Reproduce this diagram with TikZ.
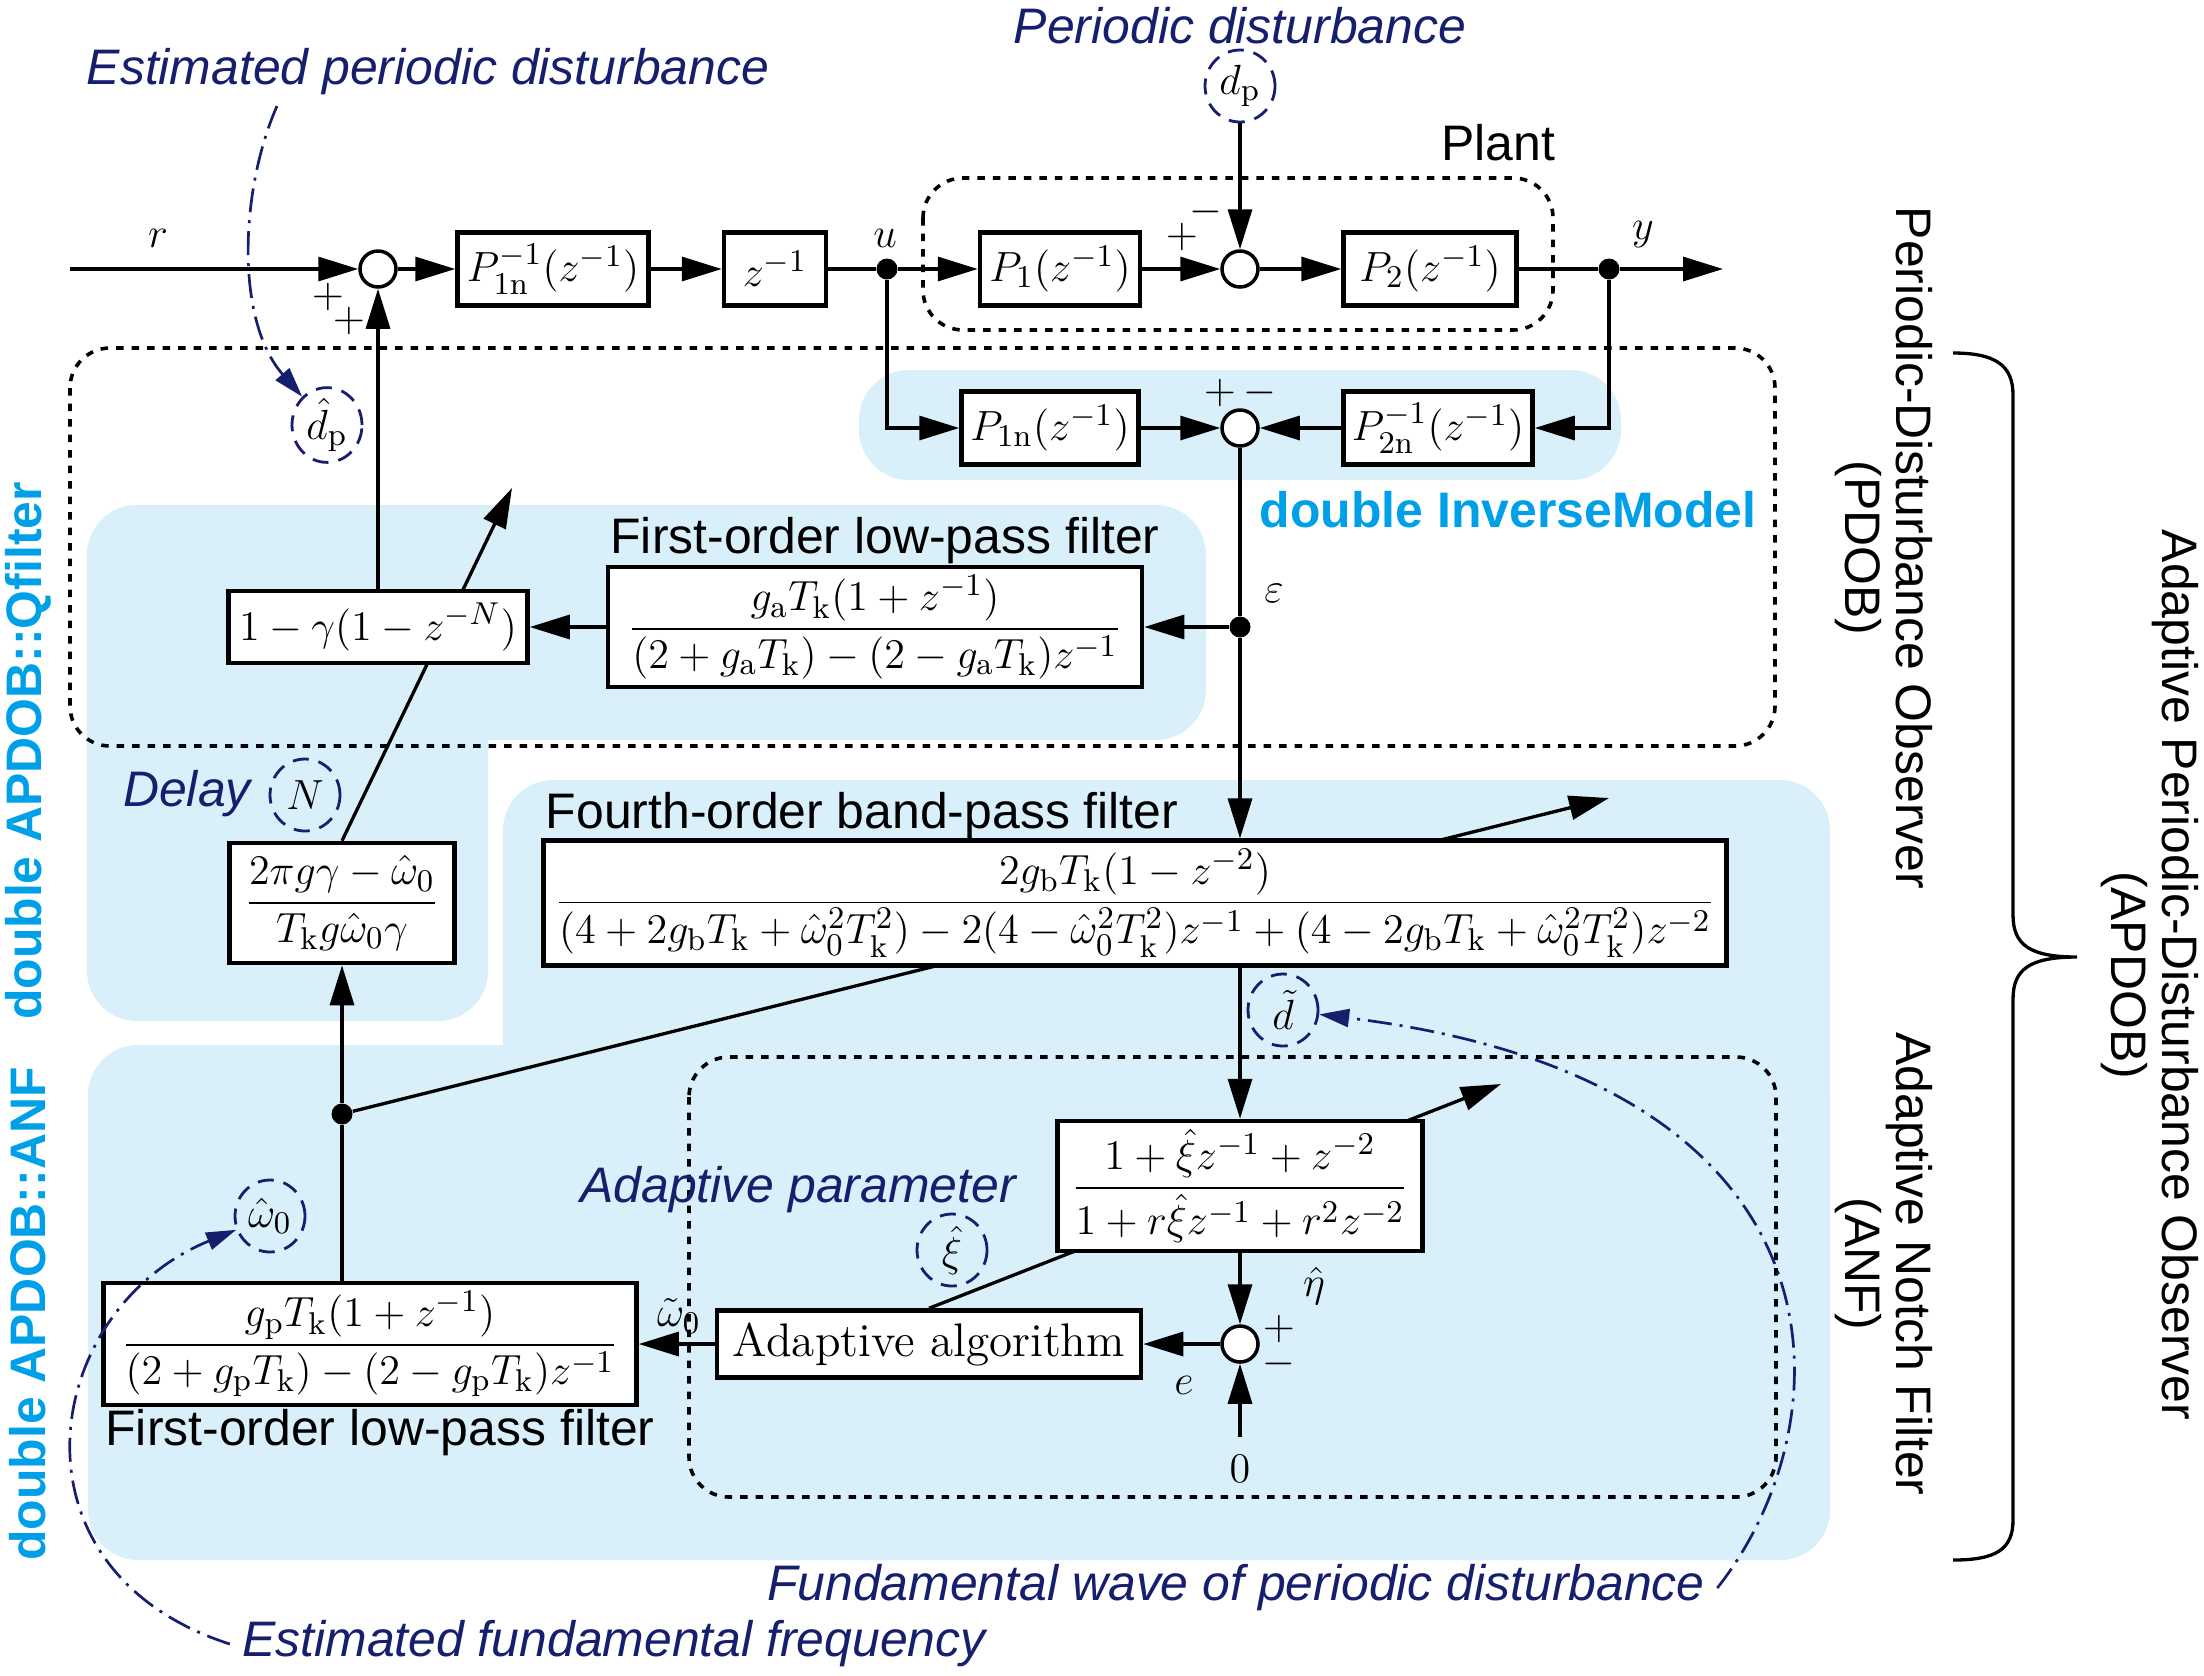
\documentclass[tikz,border=0pt]{standalone}
\usepackage{amsmath}
\usepackage{fontspec}
\setsansfont{Liberation Sans}
\usepackage{tikz}
\usetikzlibrary{shapes.geometric, arrows.meta, backgrounds}
\definecolor{navyc}{RGB}{22,30,110}
\definecolor{skyc}{RGB}{0,160,233}
\definecolor{paleblue}{RGB}{217,240,251}
\newcommand{\mathsz}{\fontsize{12.8}{15}\selectfont}
\newcommand{\lblfont}{\fontsize{14.2}{14.6}\selectfont\sffamily}
\newcommand{\notefont}{\fontsize{14.2}{14.6}\selectfont\sffamily\itshape}
\newcommand{\tagfont}{\fontsize{14.2}{14.6}\selectfont\sffamily\bfseries}
\tikzstyle{block} = [rectangle, draw=black, line width=0.45mm, fill=white, minimum height=7.3mm, inner sep=0.8mm, font=\mathsz]
\tikzstyle{sumnode} = [circle, draw=black, line width=0.35mm, fill=white, minimum size=3.6mm, inner sep=0pt]
\tikzstyle{dot} = [circle, fill=black, minimum size=2.1mm, inner sep=0pt]
\tikzstyle{wire} = [line width=0.33mm]
\tikzstyle{arrow} = [wire, -{Triangle[length=4mm, width=2.4mm]}]
\tikzstyle{frame} = [line width=0.36mm, dash pattern=on 0.75mm off 0.8mm, rounded corners=4mm]
\tikzstyle{region} = [fill=paleblue, rounded corners=5mm]
\tikzstyle{sig} = [ellipse, draw=navyc, dash pattern=on 1.6mm off 1mm, line width=0.28mm, minimum width=7mm, minimum height=7.2mm, inner sep=0pt, font=\mathsz]
\tikzstyle{sym} = [font=\mathsz, inner sep=0pt]
\tikzstyle{note} = [text=navyc, font=\notefont]
\tikzstyle{guide} = [navyc, line width=0.27mm, dash pattern=on 2.4mm off 0.8mm on 0.3mm off 0.8mm, -{Triangle[length=3mm, width=1.8mm]}]
\tikzstyle{blocktitle} = [font=\lblfont]
\tikzstyle{tag} = [text=skyc, font=\tagfont]
\tikzstyle{side} = [font=\lblfont, rotate=-90, align=center]

\begin{document}
\begin{tikzpicture}[x=0.1mm, y=-0.1mm]
\useasboundingbox (0,0) rectangle (2204,1675);
\begin{scope}[on background layer]
\fill [region] (859,370) rectangle (1621,480);
\fill [region] (87,505) rectangle (1206,740);
\fill [region] (87,505) rectangle (488,1021);
\fill [region] (503,780) rectangle (1830,1560);
\fill [region] (88,1045) rectangle (1830,1560);
\end{scope}
\draw [frame] (923,178) rectangle (1553,330);
\draw [frame] (70,348) rectangle (1775,746);
\draw [frame] (689,1057) rectangle (1776,1497);

% plant loop
\coordinate (rin) at (70,269);
\node (sa) [sumnode] at (378,269) {};
\node (pinv) [block, minimum width=19.1mm] at (553,269) {$P_{1\mathrm{n}}^{-1}(z^{-1})$};
\node (zinv) [block, minimum width=10.2mm] at (775,269) {$z^{-1}$};
\node (ju) [dot] at (887,269) {};
\node (pone) [block, minimum width=16mm] at (1060,269) {$P_1(z^{-1})$};
\node (sb) [sumnode] at (1240,269) {};
\node (ptwo) [block, minimum width=17.3mm] at (1430,269) {$P_2(z^{-1})$};
\node (jy) [dot] at (1609,269) {};
\coordinate (yout) at (1723,269);
\node (dp) [sig] at (1240,86) {$d_\mathrm{p}$};

% inverse model
\node (ponen) [block, minimum width=17.7mm] at (1050,428) {$P_{1\mathrm{n}}(z^{-1})$};
\node (sc) [sumnode] at (1240,428) {};
\node (ptwoinv) [block, minimum width=18.9mm] at (1438,428) {$P_{2\mathrm{n}}^{-1}(z^{-1})$};

% Q filter
\node (jeps) [dot] at (1240,627) {};
\node (lpfa) [block, minimum width=53.4mm, minimum height=11.9mm] at (875,627) {$\dfrac{g_\mathrm{a}T_\mathrm{k}(1+z^{-1})}{(2+g_\mathrm{a}T_\mathrm{k})-(2-g_\mathrm{a}T_\mathrm{k})z^{-1}}$};
\node (qgain) [block, minimum width=29.9mm, minimum height=7.2mm] at (378,627) {$1-\gamma(1-z^{-N})$};
\node (wgain) [block, minimum width=22.5mm, minimum height=12mm] at (342,903) {$\dfrac{2\pi g\gamma-\hat{\omega}_0}{T_\mathrm{k}g\hat{\omega}_0\gamma}$};
\node (jw) [dot] at (342,1114) {};

% ANF
\node (bpf) [block, minimum width=118.3mm, minimum height=12mm] at (1135,903) {$\dfrac{2g_\mathrm{b}T_\mathrm{k}(1-z^{-2})}{(4+2g_\mathrm{b}T_\mathrm{k}+\hat{\omega}_0^2T_\mathrm{k}^2)-2(4-\hat{\omega}_0^2T_\mathrm{k}^2)z^{-1}+(4-2g_\mathrm{b}T_\mathrm{k}+\hat{\omega}_0^2T_\mathrm{k}^2)z^{-2}}$};
\node (notch) [block, minimum width=36.5mm, minimum height=13mm] at (1240,1186) {$\dfrac{1+\hat{\xi}z^{-1}+z^{-2}}{1+r\hat{\xi}z^{-1}+r^2z^{-2}}$};
\node (sd) [sumnode] at (1240,1344) {};
\coordinate (zero) at (1240,1437);
\node (adapt) [block, minimum width=42.4mm, minimum height=6.7mm, font=\fontsize{13.4}{15}\selectfont] at (929,1344) {Adaptive algorithm};
\node (lpfp) [block, minimum width=53.3mm, minimum height=12mm] at (370,1344) {$\dfrac{g_\mathrm{p}T_\mathrm{k}(1+z^{-1})}{(2+g_\mathrm{p}T_\mathrm{k})-(2-g_\mathrm{p}T_\mathrm{k})z^{-1}}$};

% tuning arrows
\coordinate (qtip) at (512,488);
\coordinate (btip) at (1609,798);
\coordinate (ntip) at (1501,1084);
\begin{scope}[on background layer]
\draw [arrow] (wgain.north) -- (qtip);
\draw [arrow] (jw) -- (btip);
\draw [arrow] (adapt.north) -- (ntip);
\end{scope}

\draw [arrow] (rin) -- (sa);
\draw [arrow] (sa) -- (pinv);
\draw [arrow] (pinv) -- (zinv);
\draw [wire] (zinv) -- (ju);
\draw [arrow] (ju) -- (pone);
\draw [arrow] (pone) -- (sb);
\draw [arrow] (sb) -- (ptwo);
\draw [wire] (ptwo) -- (jy);
\draw [arrow] (jy) -- (yout);
\draw [arrow] (dp) -- (sb);
\draw [arrow] (ju) |- (ponen);
\draw [arrow] (jy) |- (ptwoinv);
\draw [arrow] (ponen) -- (sc);
\draw [arrow] (ptwoinv) -- (sc);
\draw [wire] (sc) -- (jeps);
\draw [arrow] (jeps) -- (lpfa);
\draw [arrow] (jeps) -- (bpf.north -| jeps);
\draw [arrow] (lpfa) -- (qgain);
\draw [arrow] (qgain) -- (sa);
\draw [wire] (lpfp.north -| jw) -- (jw);
\draw [arrow] (jw) -- (wgain);
\draw [arrow] (bpf.south -| notch) -- (notch);
\draw [arrow] (notch) -- (sd);
\draw [arrow] (zero) -- (sd);
\draw [arrow] (sd) -- (adapt);
\draw [arrow] (adapt) -- (lpfp);

% signal labels
\node (rlab) [sym] at (158,238) {$r$};
\node (ulab) [sym] at (885,238) {$u$};
\node (ylab) [sym] at (1643,235) {$y$};
\node (pa1) [sym] at (328,297) {$+$};
\node (pa2) [sym] at (349,321) {$+$};
\node (pb1) [sym] at (1182,237) {$+$};
\node (mb1) [sym] at (1206,212) {$-$};
\node (pc1) [sym] at (1220,393) {$+$};
\node (mc1) [sym] at (1260,393) {$-$};
\node (epslab) [sym] at (1274,593) {$\varepsilon$};
\node (etalab) [sym] at (1314,1286) {$\hat{\eta}$};
\node (pd1) [sym] at (1279,1329) {$+$};
\node (md1) [sym] at (1279,1364) {$-$};
\node (elab) [sym] at (1184,1385) {$e$};
\node (zlab) [sym] at (1240,1469) {$0$};
\node (wtlab) [sym] at (679,1316) {$\tilde{\omega}_0$};

% estimated signals
\node (dphat) [sig] at (327,425) {$\hat{d}_\mathrm{p}$};
\node (nsig) [sig] at (305,795) {$N$};
\node (dtil) [sig] at (1283,1010) {$\tilde{d}$};
\node (xih) [sig] at (952,1250) {$\hat{\xi}$};
\node (wh) [sig] at (270,1216) {$\hat{\omega}_0$};

\node (estp) [note] at (428,72) {Estimated periodic disturbance};
\node (perd) [note] at (1240,26) {Periodic disturbance};
\node (adpar) [note] at (798,1190) {Adaptive parameter};
\node (delay) [note] at (187,794) {Delay};
\node (fund) [note] at (1236,1588) {Fundamental wave of periodic disturbance};
\node (estf) [note] at (614,1644) {Estimated fundamental frequency};
\coordinate (estpfoot) at (277,106);
\draw [guide] (estpfoot) .. controls (240,190) and (235,320) .. (dphat);
\draw [guide] (estf.west) .. controls (0,1570) and (40,1310) .. (wh);
\draw [guide] (fund.east) .. controls (1850,1420) and (1860,1080) .. (dtil);

% titles
\node (plant) [blocktitle] at (1498,143) {Plant};
\node (lpfatitle) [blocktitle] at (885,541) {First-order low-pass filter};
\node (bpftitle) [blocktitle] at (862,816) {Fourth-order band-pass filter};
\node (lpfptitle) [blocktitle] at (380,1433) {First-order low-pass filter};
\node (invtag) [tag] at (1508,510) {double InverseModel};
\node (qtag) [tag, rotate=90] at (28,751) {double APDOB::Qfilter};
\node (anftag) [tag, rotate=90] at (28,1314) {double APDOB::ANF};

% observer brackets
\node (pdobtxt) [side] at (1884,548) {Periodic-Disturbance Observer\\(PDOB)};
\node (anftxt) [side] at (1884,1264) {Adaptive Notch Filter\\(ANF)};
\node (apdobtxt) [side] at (2150,975) {Adaptive Periodic-Disturbance Observer\\(APDOB)};
\draw [line width=0.33mm] (1953,353) .. controls (1995,353) and (2013,365) .. (2013,395) -- (2013,915) .. controls (2013,945) and (2030,957) .. (2077,957) .. controls (2030,957) and (2013,969) .. (2013,999) -- (2013,1520) .. controls (2013,1550) and (1995,1560) .. (1953,1560);
\end{tikzpicture}
\end{document}
